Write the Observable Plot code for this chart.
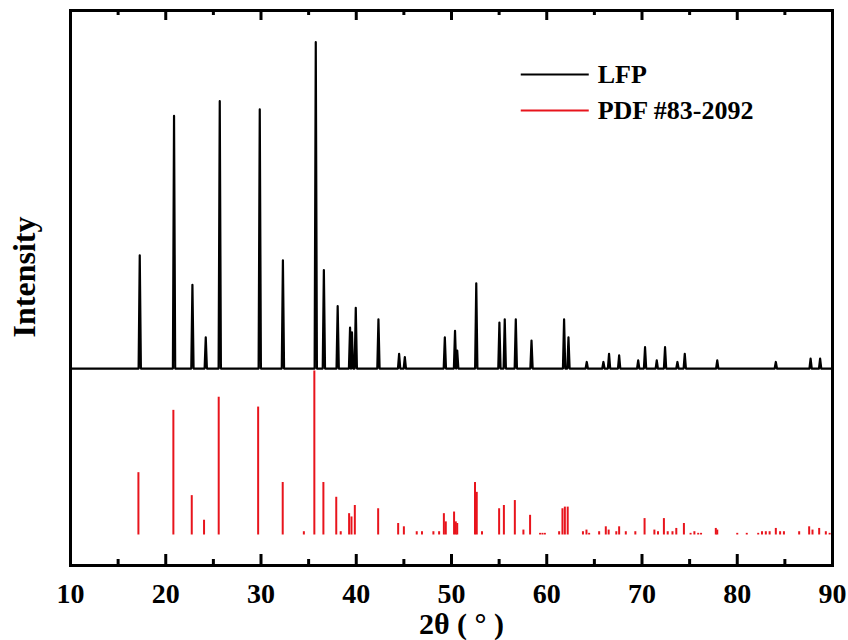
<!DOCTYPE html>
<html>
<head>
<meta charset="utf-8">
<script src="https://cdn.jsdelivr.net/npm/d3@7"></script>
<script src="https://cdn.jsdelivr.net/npm/@observablehq/plot@0.6"></script>
<style>
  html, body { margin: 0; padding: 0; background: white; }
</style>
</head>
<body>
<div id="chart"></div>
<script>
// LFP measured pattern: peak positions (2θ, degrees) and heights (a.u.)
const lfpPeakPos = [17.27, 20.87, 22.8, 24.2, 25.67, 29.87, 32.3, 35.75, 36.6, 38.05, 39.35, 39.55, 39.95, 42.33, 44.5, 45.1, 49.3, 50.37, 50.6, 52.6, 55.03, 55.59, 56.75, 58.4, 61.82, 62.28, 64.2, 65.95, 66.54, 67.6, 69.6, 70.32, 71.55, 72.42, 73.72, 74.49, 77.9, 84.05, 87.7, 88.7];
const lfpPeakHeight = [69, 154, 51, 19, 163, 158, 66, 199, 60, 38, 25, 22, 37, 30, 9, 7, 19, 23, 11, 52, 28, 30, 30, 17, 30, 19, 4, 4, 9, 8, 5, 13, 5, 13, 4, 9, 5, 4, 6, 6];
const lfpOffset = 101.5;     // vertical offset of the measured pattern
const peakHalfWidth = 0.12;  // degrees

// PDF #83-2092 reference sticks: positions (2θ) and relative intensities
const pdfPos = [17.13, 20.8, 22.73, 24.02, 25.56, 29.7, 32.28, 34.5, 35.6, 36.55, 37.9, 38.37, 39.25, 39.5, 39.85, 42.3, 44.4, 45.0, 46.35, 46.9, 48.1, 48.7, 49.2, 49.4, 50.27, 50.45, 50.6, 52.47, 52.65, 53.2, 55.0, 55.5, 56.65, 57.55, 58.25, 59.3, 59.55, 59.8, 61.3, 61.65, 61.9, 62.2, 63.8, 64.17, 64.45, 65.5, 66.2, 66.5, 67.3, 67.6, 68.3, 69.3, 70.27, 71.3, 71.68, 72.3, 72.7, 73.2, 73.6, 74.4, 75.1, 75.5, 75.9, 76.2, 77.75, 77.9, 80.0, 81.0, 82.2, 82.6, 83.0, 83.4, 84.05, 84.5, 84.9, 86.5, 87.55, 87.9, 88.6, 89.3, 89.7];
const pdfInt = [38, 76, 24, 9, 84, 78, 32, 2, 100, 32, 23, 2, 13, 11, 18, 16, 7, 5, 2, 2, 2, 2, 13, 8, 14, 8, 7, 32, 26, 2, 16, 18, 21, 3, 12, 1, 1, 1, 2, 16, 17, 17, 2, 3, 1, 2, 5, 3, 2, 5, 2, 2, 10, 3, 2, 10, 2, 2, 4, 7, 1, 2, 1, 1, 4, 3, 1, 1, 1, 2, 2, 2, 4, 2, 2, 2, 5, 3, 4, 2, 1];

const majorTicks = [10, 20, 30, 40, 50, 60, 70, 80, 90];
const minorTicks = [15, 25, 35, 45, 55, 65, 75, 85];

const legendItems = ["LFP", "PDF #83-2092"];
const legendColors = ["black", "#e8141c"];
const legendY = [280.8, 258.8];

// build tables
const lfpLine = [{x: 10, y: 0}];
lfpPeakPos.forEach((p, i) => {
  lfpLine.push({x: p - peakHalfWidth, y: 0});
  lfpLine.push({x: p, y: lfpPeakHeight[i]});
  lfpLine.push({x: p + peakHalfWidth, y: 0});
});
lfpLine.push({x: 90, y: 0});
const sticks = pdfPos.map((p, i) => ({x: p, y: pdfInt[i]}));
const legend = legendItems.map((t, i) => ({t, c: legendColors[i], y: legendY[i]}));

const W = 848, H = 640, mT = 10, mB = 75;
const innerH = H - mT - mB;

const chart = Plot.plot({
  width: W,
  height: H,
  marginLeft: 70,
  marginRight: 16,
  marginTop: mT,
  marginBottom: mB,
  style: {fontFamily: "'Liberation Serif', 'Times New Roman', serif", fontWeight: "bold", color: "black", background: "white"},
  x: {domain: [10, 90]},
  y: {domain: [-18.6, 319.8], axis: null},
  marks: [
    Plot.ruleX(sticks, {x: "x", y1: 0, y2: "y", stroke: "#e8141c", strokeWidth: 2}),
    Plot.line(lfpLine, {x: "x", y: d => d.y + lfpOffset, stroke: "black", strokeWidth: 2.2}),
    // inward ticks
    Plot.ruleX(majorTicks, {insetTop: innerH - 11, stroke: "black", strokeWidth: 3}),
    Plot.ruleX(majorTicks, {insetBottom: innerH - 10, stroke: "black", strokeWidth: 3}),
    Plot.ruleX(minorTicks, {insetTop: innerH - 6, stroke: "black", strokeWidth: 3}),
    Plot.ruleX(minorTicks, {insetBottom: innerH - 5, stroke: "black", strokeWidth: 3}),
    Plot.frame({stroke: "black", strokeWidth: 3}),
    Plot.axisX({ticks: majorTicks, tickSize: 0, tickPadding: 18, fontSize: 28, fontWeight: "bold", tickFormat: d => String(d), label: null}),
    Plot.text(["2θ ( ° )"], {frameAnchor: "bottom", lineAnchor: "middle", dx: 10, dy: 59, fontSize: 30, fontWeight: "bold", fill: "black"}),
    Plot.text(["Intensity"], {frameAnchor: "left", textAnchor: "middle", lineAnchor: "middle", rotate: -90, dx: -46, dy: -11, fontSize: 32, fontWeight: "bold", fill: "black"}),
    // legend
    Plot.link(legend, {x1: 57.27, x2: 64.41, y1: "y", y2: "y", stroke: "c", strokeWidth: 2}),
    Plot.text(legend, {x: 65.35, y: "y", text: "t", textAnchor: "start", fontSize: 26, fontWeight: "bold", fill: "black"})
  ]
});
document.getElementById("chart").appendChild(chart);
</script>
</body>
</html>
